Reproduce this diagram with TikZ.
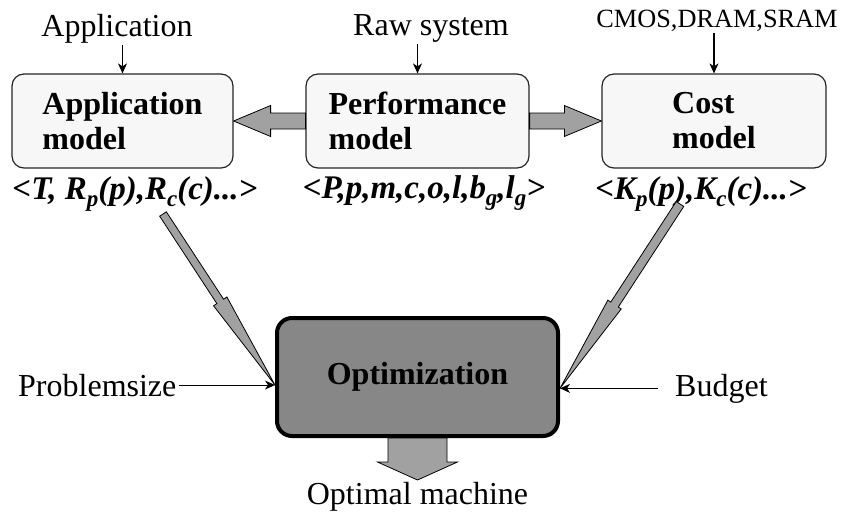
\documentclass[tikz,border=0pt]{standalone}
\usepackage{fontspec}
\setmainfont{Liberation Serif}
\usetikzlibrary{calc,arrows.meta}
\newcommand\lsub[1]{\raisebox{-7pt}{\fontsize{23}{23}\selectfont #1}}
\newcommand\fatarr[5]{%
  \coordinate (hb) at ($(#2)!#5!(#1)$);
  \draw[fatstyle] ($(#1)!#3!90:(#2)$) -- ($(hb)!#3!90:(#2)$) -- ($(hb)!#4!90:(#2)$) -- (#2)
    -- ($(hb)!#4!-90:(#2)$) -- ($(hb)!#3!-90:(#2)$) -- ($(#1)!#3!-90:(#2)$) -- cycle;}
\begin{document}
\begin{tikzpicture}[x=1pt,y=-1pt,
  box/.style={draw=black!85, line width=1.2pt, fill=black!3, rounded corners=12pt,
    minimum width=221pt, minimum height=94pt, align=left, inner sep=0pt,
    font=\fontsize{32}{35}\selectfont\bfseries},
  optbox/.style={draw=black, line width=4pt, fill=black!47, rounded corners=15pt,
    minimum width=281pt, minimum height=118pt, inner sep=0pt,
    font=\fontsize{32}{35}\selectfont\bfseries},
  lbl/.style={inner sep=2pt, font=\fontsize{32}{36}\selectfont},
  smalllbl/.style={inner sep=2pt, font=\fontsize{26.3}{30}\selectfont},
  tuple/.style={inner sep=0pt, font=\fontsize{33}{36}\selectfont\bfseries\itshape},
  thinarr/.style={line width=1.1pt, -{Stealth[length=10pt,width=9pt,inset=3pt]}},
  fatstyle/.style={draw=black, line width=0.8pt, fill=black!37, line join=miter}]
\useasboundingbox (0,0) rectangle (844,517);

% boxes
\node[box] (app) at (122.5,121) {Application\\model};
\node[box, minimum width=223pt] (perf) at (417.5,121) {Performance\\model};
\node[box, minimum width=224pt] (cost) at (714,121) {Cost\\model};
\node[optbox] (opt) at (417.5,377) {Optimization};

% top labels
\node[lbl, anchor=base] (lapp) at (117,36) {Application};
\node[lbl, anchor=base] (lraw) at (431,35) {Raw system};
\node[smalllbl, anchor=base] (lcmos) at (717,27) {CMOS,DRAM,SRAM};
\draw[thinarr] (lapp.south -| app.north) -- (app.north);
\draw[thinarr] (lraw.south -| perf.north) -- (perf.north);
\draw[thinarr] (lcmos.south -| cost.north) -- (cost.north);

% tuples
\node[tuple, anchor=base] (tapp) at (135,199) {<T, R\lsub{p}(p),R\lsub{c}(c)...>};
\node[tuple, anchor=base] (tperf) at (424,198) {<P,p,m,c,o,l,b\lsub{g},l\lsub{g}>};
\node[tuple, anchor=base] (tcost) at (701,199) {<K\lsub{p}(p),K\lsub{c}(c)...>};

% side inputs
\node[lbl, anchor=base west] (prob) at (16,396) {Problemsize};
\node[lbl, anchor=base west] (bud) at (673,396) {Budget};
\coordinate (inL) at (prob.east -| opt.west);
\coordinate (inR) at (bud.west -| opt.east);
\draw[thinarr] (prob.east) -- (inL);
\draw[thinarr, shorten <=15pt] (bud.west) -- (inR);

% output
\node[lbl, anchor=base] (optm) at (417.5,504) {Optimal machine};
\coordinate (outM) at ($(opt.south)+(0,42)$);

% fat arrows
\fatarr{perf.west}{app.east}{8pt}{15.5pt}{37pt}
\fatarr{perf.east}{cost.west}{8pt}{15.5pt}{37pt}
\coordinate (tL) at (163,214);
\coordinate (tR) at (680,204);
\fatarr{tL}{inL}{4pt}{8pt}{100pt}
\fatarr{tR}{inR}{4.5pt}{8pt}{100pt}
\fatarr{opt.south}{outM}{29.5pt}{40pt}{18pt}
\end{tikzpicture}
\end{document}
